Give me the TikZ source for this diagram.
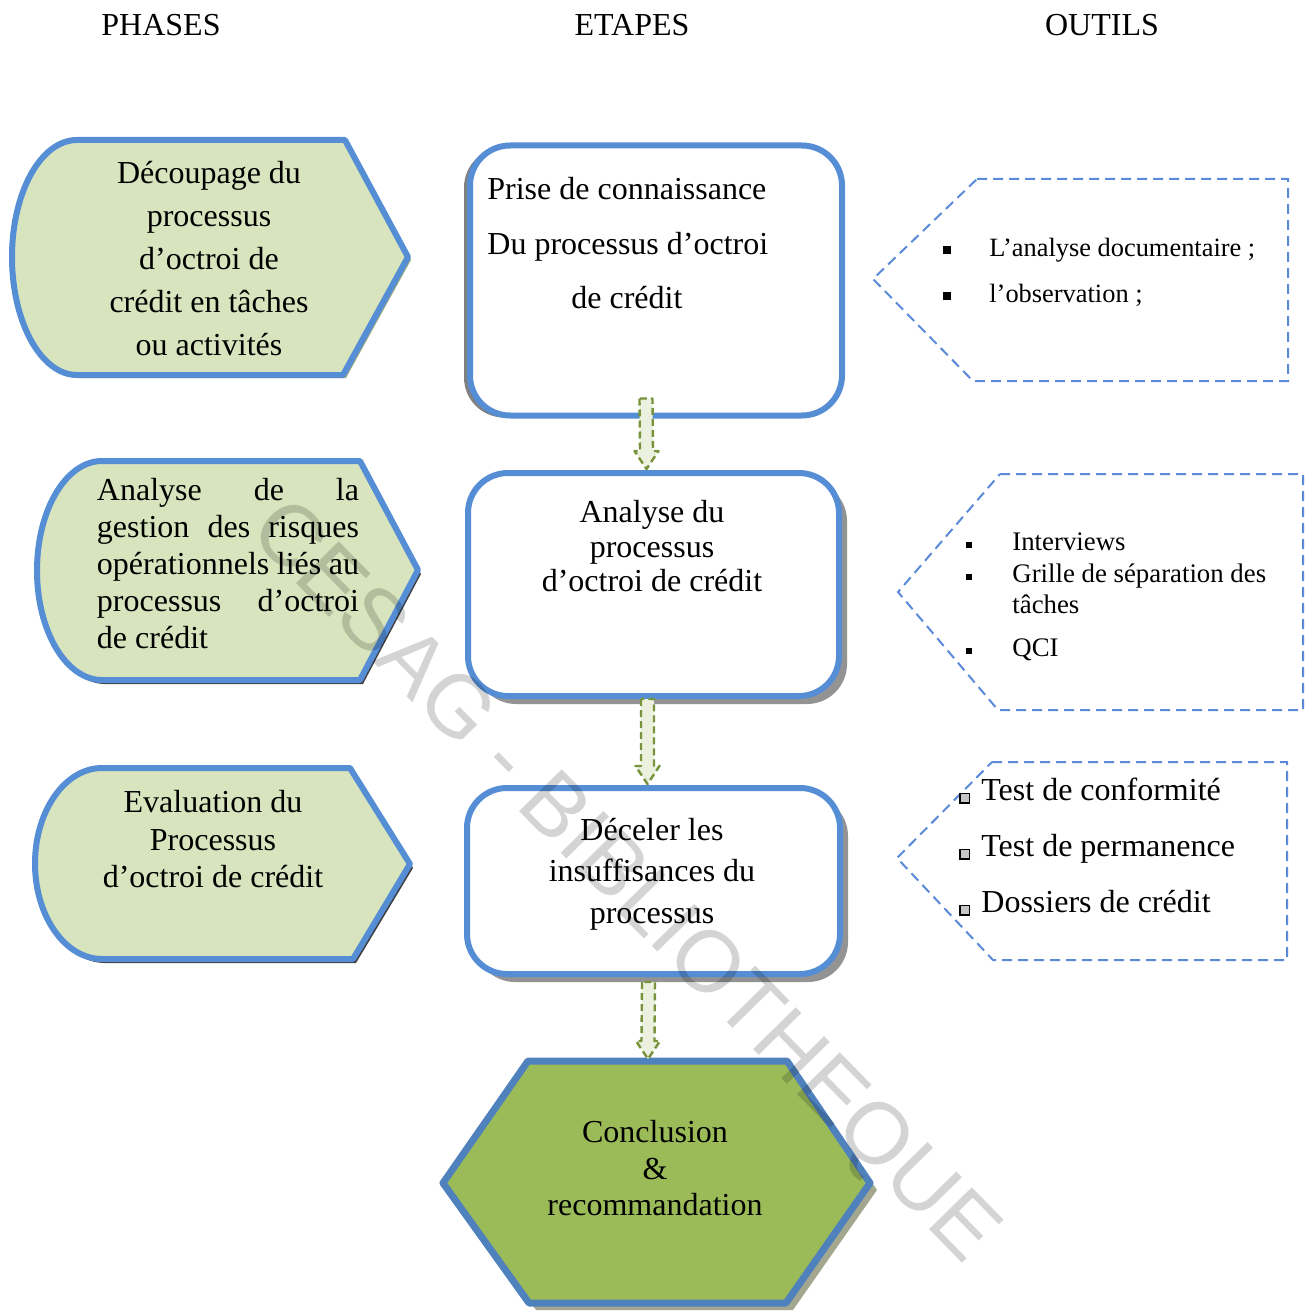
\documentclass[tikz,border=0pt]{standalone}
\usepackage{fontspec}
\setmainfont{Liberation Serif}
\newfontfamily\wmfont{Liberation Sans}
\usetikzlibrary{calc,shadows}
\definecolor{bordblue}{HTML}{558ED5}
\definecolor{hexblue}{HTML}{4F81BD}
\definecolor{leftfill}{HTML}{D7E4BD}
\definecolor{conclfill}{HTML}{9BBB59}
\definecolor{dashblue}{HTML}{5A8AD8}
\definecolor{arrfill}{HTML}{EBF1DE}
\definecolor{arrline}{HTML}{77933C}
\definecolor{shadowdark}{HTML}{404040}
\definecolor{shadowolive}{HTML}{9AAA80}
\definecolor{hexshadow}{HTML}{A3A78E}
\newcommand\fsz[2]{\fontsize{#1pt}{#2pt}\selectfont}
\newcommand\bulA{\makebox[23pt][l]{\rule[1pt]{4pt}{4pt}}}
\newcommand\bulB{\makebox[23pt][l]{\rule[1.3pt]{3pt}{3pt}}}
\newcommand\bulC{\makebox[11pt][l]{\raisebox{-0.6pt}{\setlength\fboxsep{0pt}\setlength\fboxrule{0.7pt}\fcolorbox{black}{gray!45}{\rule{0pt}{4pt}\hspace{4pt}}}}}
\begin{document}
\begin{tikzpicture}[x=0.5pt,y=-0.5pt,
  txt/.style={inner sep=0pt, text=black},
  header/.style={txt, font=\fsz{16}{19}},
  phase/.style={draw=bordblue, line width=3pt, fill=leftfill, line join=round},
  etape/.style={draw=bordblue, line width=3pt, fill=white, rounded corners=20pt, inner sep=0pt},
  outil/.style={draw=dashblue, line width=1pt, dash pattern=on 5pt off 3pt},
  blockarr/.style={draw=arrline, fill=arrfill, line width=1.2pt, dash pattern=on 3.5pt off 2pt, line join=round}
]
\useasboundingbox (0,0) rectangle (1314,1311);

% headers
\node[header] (hphases) at (161,25) {PHASES};
\node[header] (hetapes) at (632,25) {ETAPES};
\node[header] (houtils) at (1102,25) {OUTILS};

% ---------- PHASES ----------
\fill[shadowolive, shift={(3,3)}] (77,140) -- (345,140) -- (408,257) -- (343,375) -- (77,375)
  .. controls (41,375) and (12,322) .. (12,257) .. controls (12,192) and (41,140) .. (77,140) -- cycle;
\path[phase] (77,140) -- (345,140) -- (408,257) -- (343,375) -- (77,375)
  .. controls (41,375) and (12,322) .. (12,257) .. controls (12,192) and (41,140) .. (77,140) -- cycle;
\node[txt, font=\fsz{16}{21.5}, align=center] (p1) at (209,258.5)
  {Découpage du\\processus\\d’octroi de\\crédit en tâches\\ou activités};

\fill[shadowdark, shift={(3,4)}] (102,461) -- (360,461) -- (418,570) -- (360,680) -- (102,680)
  .. controls (66,680) and (37,631) .. (37,570.5) .. controls (37,510) and (66,461) .. (102,461) -- cycle;
\path[phase] (102,461) -- (360,461) -- (418,570) -- (360,680) -- (102,680)
  .. controls (66,680) and (37,631) .. (37,570.5) .. controls (37,510) and (66,461) .. (102,461) -- cycle;
\node[txt, font=\fsz{16}{18.4}, text width=131pt, align=justify] (p2) at (228,563.5)
  {Analyse de la\linebreak gestion des risques\linebreak opérationnels liés au\linebreak processus d’octroi\linebreak de crédit};

\fill[shadowdark, shift={(3,4)}] (102,768) -- (350,768) -- (410,864) -- (353,959) -- (102,959)
  .. controls (65,959) and (35,916) .. (35,863.5) .. controls (35,811) and (65,768) .. (102,768) -- cycle;
\path[phase] (102,768) -- (350,768) -- (410,864) -- (353,959) -- (102,959)
  .. controls (65,959) and (35,916) .. (35,863.5) .. controls (35,811) and (65,768) .. (102,768) -- cycle;
\node[txt, font=\fsz{16}{18.75}, align=center] (p3) at (213,839.5)
  {Evaluation du\\Processus\\d’octroi de crédit};

% ---------- ETAPES ----------
\node[etape, minimum width=186pt, minimum height=135pt,
  drop shadow={shadow xshift=-3pt, shadow yshift=-1pt, fill=gray, opacity=1}] (b1) at (656,280.5) {};
\node[txt, font=\fsz{16}{27.25}, align=left, anchor=west] (t1) at (487,243.5)
  {Prise de connaissance\\Du processus d’octroi\\\hspace*{42pt}de crédit};

\node[etape, minimum width=185.5pt, minimum height=111.5pt,
  drop shadow={shadow xshift=4pt, shadow yshift=-4pt, fill=gray!85, opacity=1}] (b2) at (653.5,584.5) {};
\node[txt, font=\fsz{16}{17.25}, align=center] (t2) at (652,546.5)
  {Analyse du\\processus\\d’octroi de crédit};

\node[etape, minimum width=186.5pt, minimum height=93pt,
  drop shadow={shadow xshift=4pt, shadow yshift=-4pt, fill=gray!85, opacity=1}] (b3) at (653.5,881) {};
\node[txt, font=\fsz{16}{20.75}, align=center] (t3) at (652,874)
  {Déceler les\\insuffisances du\\processus};

% conclusion
\fill[hexshadow, shift={(7,7)}] (528,1061) -- (787,1061) -- (870,1183) -- (786,1303) -- (529,1303) -- (443,1183) -- cycle;
\path[draw=hexblue, line width=3.5pt, fill=conclfill, line join=round]
  (528,1061) -- (787,1061) -- (870,1183) -- (786,1303) -- (529,1303) -- (443,1183) -- cycle;
\node[txt, font=\fsz{16}{18.25}, align=center] (tc) at (655,1168.5)
  {Conclusion\\\&\\recommandation};
\coordinate (hextop) at (657,1061);

% block arrows
\coordinate (a1s) at ($(b1.south)+(-10,-20)$);
\coordinate (a1e) at ($(b2.north)+(-7,-1)$);
\coordinate (a2s) at ($(b2.south)+(-6,0)$);
\coordinate (a2e) at ($(b3.north)+(-6,-1)$);
\coordinate (a3s) at ($(b3.south)+(-5,5)$);
\coordinate (a3e) at ($(hextop)+(-9,-2)$);
\foreach \s/\e in {a1s/a1e, a2s/a2e, a3s/a3e}{
  \draw[blockarr] ($(\s)+(-6.5,0)$) -- ($(\e)+(-6.5,-18)$) -- ($(\e)+(-12,-18)$) -- (\e)
    -- ($(\e)+(12,-18)$) -- ($(\e)+(6.5,-18)$) -- ($(\s)+(6.5,0)$) -- cycle;
}

% ---------- OUTILS ----------
\draw[outil] (977,179) -- (1288,179) -- (1288,381) -- (973,381) -- (873,279) -- cycle;
\node[txt, font=\fsz{13.2}{23}, align=left, anchor=west] (o1) at (943,272)
  {\bulA L’analyse documentaire ;\\\bulA l’observation ;};

\draw[outil] (1000,474) -- (1303,474) -- (1303,710) -- (998,710) -- (898,592) -- cycle;
\node[txt, font=\fsz{13.4}{15.75}, align=left, anchor=west] (o2) at (966,597)
  {\bulB Interviews\\\bulB Grille de séparation des\\\hspace*{23pt}tâches\\[5.5pt]\bulB QCI};

\draw[outil] (992,762) -- (1287,762) -- (1287,960) -- (993,960) -- (897,858) -- cycle;
\node[txt, font=\fsz{16}{28}, align=left, anchor=west] (o3) at (959,847)
  {\bulC Test de conformité\\\bulC Test de permanence\\\bulC Dossiers de crédit};

% watermark
\node[inner sep=0pt, rotate=-45.6, font=\wmfont\fontsize{43.5pt}{48pt}\selectfont, text=black, text opacity=0.17] (wm) at (622,884)
  {CESAG - BIBLIOTHEQUE};
\end{tikzpicture}
\end{document}
